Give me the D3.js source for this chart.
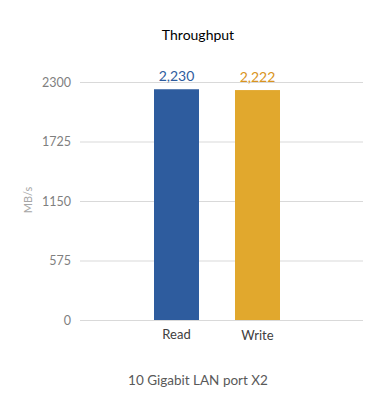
<!DOCTYPE html>
<html><head><meta charset="utf-8">
<script src="https://cdn.jsdelivr.net/npm/d3@7"></script>
<style>body{margin:0;background:#fff}svg{display:block}</style>
</head><body><svg id="c" width="380" height="420"></svg>
<script>
const categories = ["Read", "Write"];
const values = [2230, 2222];
const valueLabels = ["2,230", "2,222"];
const tickValues = [0, 575, 1150, 1725, 2300];
const barColors = ["#2E5C9E", "#E1A82D"];
const labelColors = ["#2E5C9E", "#D99420"];
const chartTitle = "Throughput";
const xTitle = "10 Gigabit LAN port X2";
const yTitle = "MB/s";

const font = "Lato, 'Open Sans', sans-serif";
const svg = d3.select("#c");
const plotLeft = 80, plotRight = 363, plotTop = 82, plotBottom = 320;
const y = d3.scaleLinear().domain([0, 2300]).range([plotBottom, plotTop]);

// gridlines
svg.append("g").selectAll("line").data(tickValues).join("line")
  .attr("x1", plotLeft).attr("x2", plotRight)
  .attr("y1", d => y(d) + 0.5).attr("y2", d => y(d) + 0.5)
  .attr("stroke", "#d9d9d9").attr("stroke-width", 1);

// y axis labels
const yAxis = d3.axisLeft(y).tickValues(tickValues).tickSize(0).tickPadding(9).tickFormat(d3.format("d"));
const ga = svg.append("g").attr("transform", `translate(${plotLeft},0)`).call(yAxis);
ga.select(".domain").remove();
ga.selectAll("text").attr("fill", "#7f7f7f").style("font-family", font).style("font-size", "12.5px");

// bars
const bw = 45;
const cx = d3.scalePoint().domain(categories).range([176.5, 257.5]);
svg.append("g").selectAll("rect").data(values).join("rect")
  .attr("x", (d, i) => cx(categories[i]) - bw / 2)
  .attr("width", bw)
  .attr("y", d => y(d))
  .attr("height", d => plotBottom - y(d))
  .attr("fill", (d, i) => barColors[i]);

// value labels
svg.append("g").selectAll("text").data(values).join("text")
  .attr("x", (d, i) => cx(categories[i]))
  .attr("y", d => y(d) - 8)
  .attr("text-anchor", "middle")
  .attr("fill", (d, i) => labelColors[i])
  .style("font-family", font).style("font-size", "14px")
  .text((d, i) => valueLabels[i]);

// category labels
svg.append("g").selectAll("text").data(categories).join("text")
  .attr("x", d => cx(d))
  .attr("y", (d, i) => i === 0 ? 339 : 340)
  .attr("text-anchor", "middle")
  .attr("fill", "#404040")
  .style("font-family", font).style("font-size", "13px")
  .text(d => d);

// titles
svg.append("text").attr("x", 198).attr("y", 40).attr("text-anchor", "middle")
  .attr("fill", "#000").style("font-family", font).style("font-size", "14px").text(chartTitle);
svg.append("text").attr("x", 198).attr("y", 385).attr("text-anchor", "middle")
  .attr("fill", "#595959").style("font-family", font).style("font-size", "13.5px").text(xTitle);
svg.append("text").attr("transform", "translate(32,200) rotate(-90)").attr("text-anchor", "middle")
  .attr("fill", "#a6a6a6").style("font-family", font).style("font-size", "11px").text(yTitle);
</script></body></html>
